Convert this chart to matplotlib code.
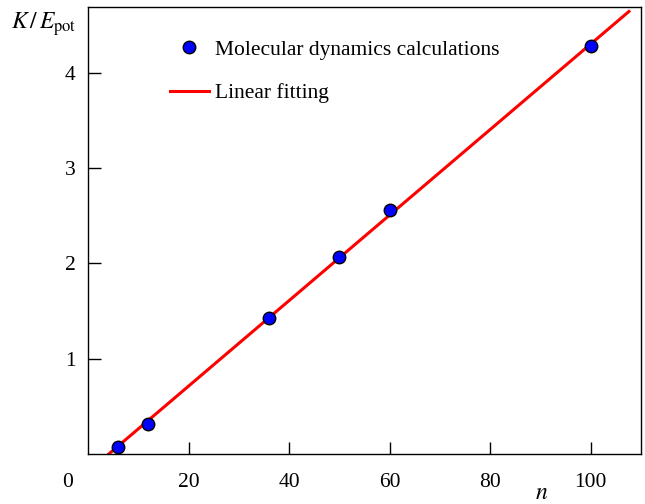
import matplotlib
matplotlib.use("Agg")
import matplotlib.pyplot as plt
import numpy as np

plt.rcParams['font.family'] = ['Liberation Serif', 'DejaVu Serif']
plt.rcParams['mathtext.fontset'] = 'stix'

# Data
n_md = [6, 12, 36, 50, 60, 100]
k_md = [0.07, 0.31, 1.425, 2.065, 2.56, 4.285]
fit_x = [4.2, 107.6]
fit_slope = 0.04497
fit_intercept = -0.189
xticks = [20, 40, 60, 80, 100]
yticks = [1, 2, 3, 4]

fig = plt.figure(figsize=(6.45, 5.04), dpi=100)
ax = fig.add_axes([0.1364, 0.0998, 0.8574, 0.8869])

fx = np.array(fit_x)
ax.plot(fx, fit_slope * fx + fit_intercept, color='#ff0000', lw=2.2,
        label='Linear fitting', zorder=2)
ax.plot(n_md, k_md, 'o', ms=9, mfc='#0000ff', mec='black', mew=1.0,
        label='Molecular dynamics calculations', zorder=3)

ax.set_xlim(0, 110)
ax.set_ylim(0, 4.7)
ax.set_xticks(xticks)
ax.set_yticks(yticks)
ax.tick_params(direction='in', length=9, width=1.0, labelsize=15.5)
ax.tick_params(axis='x', pad=14)
ax.tick_params(axis='y', pad=9)
for s in ax.spines.values():
    s.set_linewidth(1.0)

ax.text(-0.027, -0.064, '0', transform=ax.transAxes, fontsize=15.5,
        ha='right', va='center')
ax.text(0.82, -0.09, r'$n$', transform=ax.transAxes, fontsize=17,
        ha='center', va='center')
ax.text(-0.08, 0.962, r'$K\,/\,E_{\rm pot}$', transform=ax.transAxes, fontsize=17,
        ha='center', va='center')

h, l = ax.get_legend_handles_labels()
ax.legend([h[1], h[0]], [l[1], l[0]], loc='upper left',
          bbox_to_anchor=(0.113, 0.97), frameon=False, fontsize=15.5,
          handlelength=1.8, handletextpad=0.3, labelspacing=1.1, numpoints=1)

fig.savefig('out.png', dpi=100)
